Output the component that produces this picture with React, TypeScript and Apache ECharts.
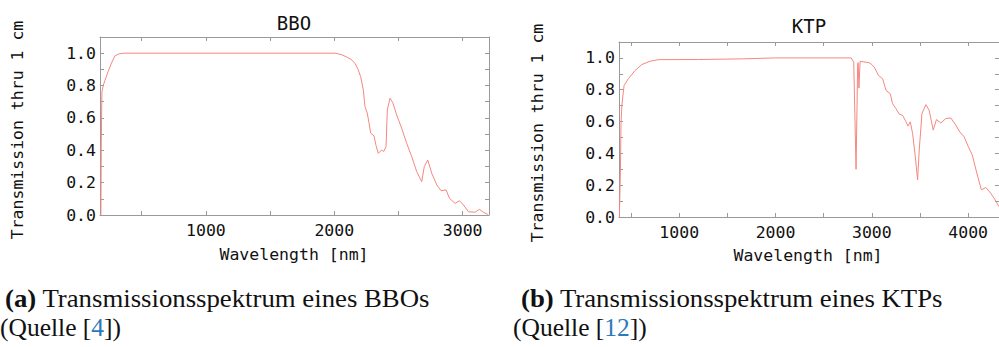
import React, { useEffect, useRef } from "react";
import * as echarts from "echarts";

// BBO transmission (wavelength nm, transmission)
const bboWavelength = [182, 185, 190, 200, 213, 238, 265, 291, 320, 355, 2005, 2060, 2097, 2130, 2161, 2185, 2205, 2226, 2239, 2257, 2270, 2284, 2309, 2325, 2343, 2369, 2385, 2403, 2413, 2434, 2455, 2486, 2525, 2564, 2603, 2642, 2681, 2701, 2728, 2759, 2798, 2832, 2871, 2897, 2941, 2975, 3006, 3045, 3097, 3130, 3161, 3196];
const bboTransmission = [0, 0.45, 0.76, 0.8, 0.83, 0.886, 0.94, 0.983, 0.995, 1.0, 1.0, 0.99, 0.976, 0.962, 0.938, 0.9, 0.855, 0.773, 0.67, 0.629, 0.57, 0.505, 0.489, 0.43, 0.381, 0.402, 0.392, 0.423, 0.649, 0.722, 0.695, 0.618, 0.536, 0.443, 0.361, 0.268, 0.206, 0.299, 0.34, 0.258, 0.186, 0.15, 0.155, 0.103, 0.072, 0.088, 0.062, 0.02, 0.017, 0.035, 0.017, 0.004];

// KTP transmission
const ktpWavelength = [379, 390, 396, 405, 414, 428, 472, 541, 611, 697, 783, 1200, 1659, 2000, 2785, 2812, 2836, 2853, 2858, 2866, 2878, 2940, 2974, 3000, 3026, 3043, 3070, 3112, 3147, 3191, 3215, 3250, 3285, 3319, 3347, 3375, 3399, 3423, 3451, 3475, 3492, 3520, 3561, 3595, 3637, 3671, 3716, 3768, 3820, 3872, 3913, 3958, 4002, 4043, 4095, 4137, 4183, 4234, 4275, 4320];
const ktpTransmission = [0, 0.3, 0.59, 0.7, 0.754, 0.827, 0.869, 0.92, 0.958, 0.979, 0.989, 0.99, 0.994, 1.0, 1.0, 0.973, 0.3, 0.966, 0.97, 0.81, 0.979, 0.973, 0.969, 0.958, 0.941, 0.92, 0.889, 0.869, 0.796, 0.775, 0.7125, 0.681, 0.646, 0.639, 0.608, 0.571, 0.598, 0.525, 0.379, 0.233, 0.421, 0.65, 0.706, 0.671, 0.546, 0.6125, 0.591, 0.619, 0.6225, 0.577, 0.535, 0.504, 0.441, 0.389, 0.264, 0.171, 0.185, 0.15, 0.1125, 0.065];

const yTicks = [0, 0.1, 0.2, 0.3, 0.4, 0.5, 0.6, 0.7, 0.8, 0.9, 1.0];
const yLabels = [0, 0.2, 0.4, 0.6, 0.8, 1.0];
const bboXTicks = [500, 1000, 1500, 2000, 2500, 3000];
const bboXLabels = [1000, 2000, 3000];
const ktpXTicks = [500, 1000, 1500, 2000, 2500, 3000, 3500, 4000];
const ktpXLabels = [1000, 2000, 3000, 4000];

const MONO = "DejaVu Sans Mono";
const SERIF = "Liberation Serif";
const LINE = "#f5877f";
const FRAME = "#9a9a9a";
const MONO_SIZE = 16.5;

function axisPair(gridIndex: number, min: number, max: number, ticks: number[], labels: number[]) {
  const common = {
    type: "value",
    gridIndex,
    min,
    max,
    splitLine: { show: false },
    axisLine: { show: true, onZero: false, lineStyle: { color: FRAME, width: 1 } },
    axisTick: { show: true, inside: true, length: 4, customValues: ticks, lineStyle: { color: FRAME } },
  };
  return [
    {
      ...common,
      position: "bottom",
      axisLabel: {
        show: true,
        customValues: labels,
        formatter: (v: number) => String(v),
        margin: 7,
        color: "#111",
        fontFamily: MONO,
        fontSize: MONO_SIZE,
      },
    },
    { ...common, position: "top", axisLabel: { show: false } },
  ];
}

function yPair(gridIndex: number) {
  const common = {
    type: "value",
    gridIndex,
    min: 0,
    max: 1.1,
    splitLine: { show: false },
    axisLine: { show: true, onZero: false, lineStyle: { color: FRAME, width: 1 } },
    axisTick: { show: true, inside: true, length: 4, customValues: yTicks, lineStyle: { color: FRAME } },
  };
  return [
    {
      ...common,
      position: "left",
      axisLabel: {
        show: true,
        customValues: yLabels,
        formatter: (v: number) => v.toFixed(1),
        margin: 4,
        color: "#111",
        fontFamily: MONO,
        fontSize: MONO_SIZE,
      },
    },
    { ...common, position: "right", axisLabel: { show: false } },
  ];
}

function monoText(text: string, x: number, y: number, size: number, rotation = 0) {
  return {
    type: "text",
    x,
    y,
    rotation,
    style: {
      text,
      fill: "#111",
      font: `${size}px "${MONO}"`,
      textAlign: "center",
      textVerticalAlign: "middle",
    },
  };
}

function caption(label: string, body: string, ref: string, x1: number, x2: number) {
  const size = 25.5;
  const rich = {
    b: { fontWeight: "bold", fontFamily: SERIF, fontSize: size, fill: "#111" },
    n: { fontFamily: SERIF, fontSize: size, fill: "#111" },
    l: { fontFamily: SERIF, fontSize: size, fill: "#2f78b8" },
  };
  return [
    {
      type: "text",
      x: x1,
      y: 299,
      scaleX: 1.05,
      style: {
        text: `{b|${label}}{n| ${body}}`,
        rich,
        textVerticalAlign: "middle",
      },
    },
    {
      type: "text",
      x: x2,
      y: 327,
      style: {
        text: `{n|(Quelle [}{l|${ref}}{n|])}`,
        rich,
        textVerticalAlign: "middle",
      },
    },
  ];
}

export default function App() {
  const ref = useRef<HTMLDivElement>(null);
  useEffect(() => {
    if (!ref.current) return;
    const chart = echarts.init(ref.current, null, { renderer: "svg" });
    const bboData = bboWavelength.map((w, i) => [w, bboTransmission[i]]);
    const ktpData = ktpWavelength.map((w, i) => [w, ktpTransmission[i]]);
    chart.setOption({
      animation: false,
      backgroundColor: "#fff",
      grid: [
        { left: 100, top: 37, width: 389, height: 178 },
        { left: 619, top: 42, width: 380, height: 175 },
      ],
      xAxis: [...axisPair(0, 175, 3205, bboXTicks, bboXLabels), ...axisPair(1, 375, 4320, ktpXTicks, ktpXLabels)],
      yAxis: [...yPair(0), ...yPair(1)],
      series: [
        {
          type: "line",
          xAxisIndex: 0,
          yAxisIndex: 0,
          data: bboData,
          showSymbol: false,
          lineStyle: { color: LINE, width: 1 },
          itemStyle: { color: LINE },
        },
        {
          type: "line",
          xAxisIndex: 2,
          yAxisIndex: 2,
          data: ktpData,
          showSymbol: false,
          lineStyle: { color: LINE, width: 1 },
          itemStyle: { color: LINE },
        },
      ],
      graphic: [
        monoText("BBO", 294, 23, 19),
        monoText("KTP", 809, 26, 19),
        monoText("Wavelength [nm]", 294, 254, MONO_SIZE),
        monoText("Wavelength [nm]", 808, 255, MONO_SIZE),
        monoText("Transmission thru 1 cm", 17, 130, MONO_SIZE, Math.PI / 2),
        monoText("Transmission thru 1 cm", 537, 133, MONO_SIZE, Math.PI / 2),
        ...caption("(a)", "Transmissionsspektrum eines BBOs", "4", 5, 0),
        ...caption("(b)", "Transmissionsspektrum eines KTPs", "12", 521, 513),
      ],
    });
    return () => chart.dispose();
  }, []);
  return <div ref={ref} style={{ position: "fixed", left: 0, top: 0, width: 999, height: 347 }} />;
}
